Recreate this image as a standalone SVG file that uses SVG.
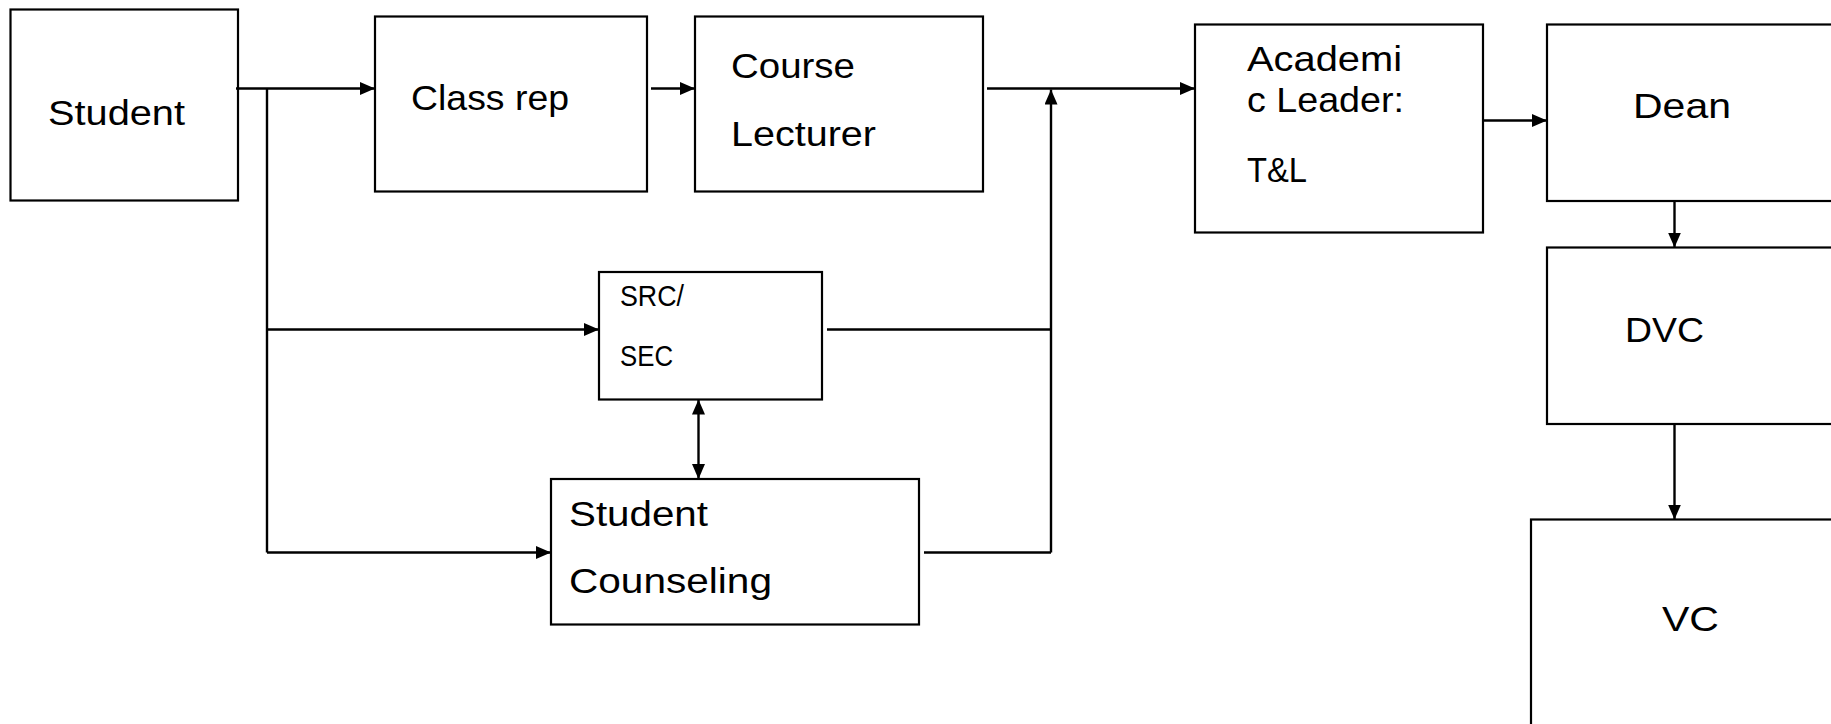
<svg xmlns="http://www.w3.org/2000/svg" width="1831" height="724" viewBox="0 0 1831 724">
<style>
.box{fill:#fff;stroke:#000;stroke-width:2.2}
.lbl{font-family:"Liberation Sans",Arial,sans-serif;font-size:35px;fill:#000}
.sm{font-size:29px}
.c{fill:none;stroke:#000;stroke-width:2.4}
.a{marker-end:url(#ah)}
.d{marker-end:url(#ah);marker-start:url(#ah)}
</style>
<defs>
<marker id="ah" markerWidth="15" markerHeight="13" refX="15" refY="6.5" orient="auto-start-reverse" markerUnits="userSpaceOnUse"><path d="M0,0 L15,6.5 L0,13 z" fill="#000"/></marker>
</defs>
<rect width="1831" height="724" fill="#fff"/>
<g id="student"><rect class="box" x="10.5" y="9.5" width="227.5" height="191"/><text class="lbl" x="48" y="125" textLength="137" lengthAdjust="spacingAndGlyphs">Student</text></g>
<g id="classrep"><rect class="box" x="375" y="16.5" width="272" height="175"/><text class="lbl" x="411" y="110" textLength="158" lengthAdjust="spacingAndGlyphs">Class rep</text></g>
<g id="lecturer"><rect class="box" x="695" y="16.5" width="288" height="175"/><text class="lbl" x="731" y="78" textLength="124" lengthAdjust="spacingAndGlyphs">Course</text><text class="lbl" x="731" y="146" textLength="145" lengthAdjust="spacingAndGlyphs">Lecturer</text></g>
<g id="academic"><rect class="box" x="1195" y="24.5" width="288" height="208"/><text class="lbl" x="1247" y="71" textLength="155" lengthAdjust="spacingAndGlyphs">Academi</text><text class="lbl" x="1247" y="112" textLength="157" lengthAdjust="spacingAndGlyphs">c Leader:</text><text class="lbl" x="1247" y="182" textLength="60" lengthAdjust="spacingAndGlyphs">T&amp;L</text></g>
<g id="dean"><rect class="box" x="1547" y="24.5" width="300" height="176.5"/><text class="lbl" x="1633" y="118" textLength="98" lengthAdjust="spacingAndGlyphs">Dean</text></g>
<g id="dvc"><rect class="box" x="1547" y="247.5" width="300" height="176.5"/><text class="lbl" x="1625" y="342" textLength="79" lengthAdjust="spacingAndGlyphs">DVC</text></g>
<g id="vc"><rect class="box" x="1531" y="519.5" width="316" height="220"/><text class="lbl" x="1662" y="631" textLength="57" lengthAdjust="spacingAndGlyphs">VC</text></g>
<g id="srcsec"><rect class="box" x="599" y="272" width="223" height="127.5"/><text class="lbl sm" x="620" y="306" textLength="64" lengthAdjust="spacingAndGlyphs">SRC/</text><text class="lbl sm" x="620" y="366" textLength="53" lengthAdjust="spacingAndGlyphs">SEC</text></g>
<g id="counseling"><rect class="box" x="551" y="479" width="368" height="145.5"/><text class="lbl" x="569" y="526" textLength="139" lengthAdjust="spacingAndGlyphs">Student</text><text class="lbl" x="569" y="593" textLength="203" lengthAdjust="spacingAndGlyphs">Counseling</text></g>
<g id="connectors">
<path class="c a" d="M236,88.5 H375"/>
<path class="c" d="M267,88.5 V552.5"/>
<path class="c a" d="M267,329.5 H599"/>
<path class="c a" d="M267,552.5 H551"/>
<path class="c a" d="M651,88.5 H695"/>
<path class="c a" d="M987,88.5 H1195"/>
<path class="c" d="M827,329.5 H1051"/>
<path class="c" d="M924,552.5 H1051"/>
<path class="c a" d="M1051,552.5 V89.5"/>
<path class="c d" d="M698.5,399.5 V479"/>
<path class="c a" d="M1483,120.5 H1547"/>
<path class="c a" d="M1674.5,201 V247.5"/>
<path class="c a" d="M1674.5,424 V519.5"/>
</g>
</svg>
